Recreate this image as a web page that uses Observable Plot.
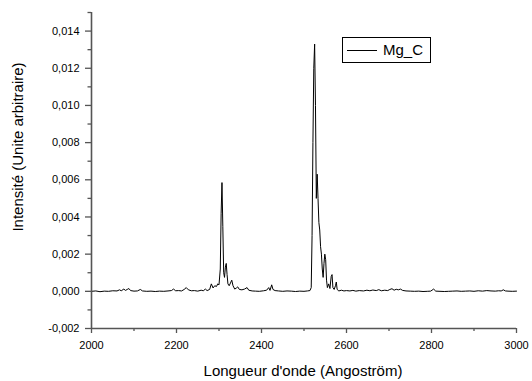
<!DOCTYPE html>
<html>
<head>
<meta charset="utf-8">
<script src="https://cdn.jsdelivr.net/npm/d3@7"></script>
<script src="https://cdn.jsdelivr.net/npm/@observablehq/plot@0.6"></script>
<style>
  html, body { margin: 0; padding: 0; background: #fff; }
  #wrap { position: relative; width: 532px; height: 381px; font-family: "Liberation Sans", Arial, sans-serif; }
  #wrap svg { position: absolute; left: 0; top: 0; }
  .ytitle { position: absolute; left: 17px; top: 147px; transform: translate(-50%, -50%) rotate(-90deg); white-space: nowrap; font-size: 15px; color: #000; }
  .xtitle { position: absolute; left: 303px; top: 370px; transform: translate(-50%, -50%); white-space: nowrap; font-size: 15px; color: #000; }
  .legend { position: absolute; left: 342px; top: 37px; width: 87px; height: 24px; border: 1px solid #000; background: #fff; box-sizing: content-box; }
  .legend .sw { position: absolute; left: 4px; top: 12px; width: 30px; height: 0; border-top: 1px solid #000; }
  .legend .lb { position: absolute; left: 40px; top: 3px; font-size: 15px; line-height: 18px; color: #000; }
</style>
</head>
<body>
<div id="wrap"></div>
<script>
const seriesName = "Mg_C";
const xLabel = "Longueur d'onde (Angoström)";
const yLabel = "Intensité (Unite arbitraire)";

const wavelength = [
  2000, 2010, 2020, 2030, 2040, 2050, 2060, 2066, 2070, 2076, 2080, 2084, 2088, 2092, 2100, 2108, 2115, 2120,
  2130, 2140, 2150, 2160, 2170, 2180, 2188, 2193, 2198, 2205, 2212, 2218, 2223, 2228, 2235, 2242, 2250, 2258,
  2263, 2268, 2272, 2278, 2282, 2286, 2290, 2294, 2297, 2300, 2303, 2305, 2307, 2309, 2311, 2313, 2315, 2317,
  2319, 2321, 2324, 2327, 2330, 2333, 2337, 2341, 2344, 2348, 2354, 2360, 2366, 2370, 2378, 2386, 2395, 2405,
  2412, 2417, 2420, 2424, 2427, 2432, 2440, 2450, 2460, 2470, 2480, 2490, 2500, 2508, 2514, 2517, 2519, 2521,
  2523, 2525, 2527, 2529, 2531, 2533, 2535, 2537, 2539, 2541, 2543, 2545, 2547, 2549, 2551, 2553, 2555, 2558,
  2561, 2564, 2566, 2568, 2571, 2574, 2576, 2578, 2582, 2588, 2594, 2600, 2608, 2615, 2622, 2630, 2640, 2648,
  2655, 2662, 2670, 2676, 2682, 2690, 2697, 2702, 2707, 2712, 2717, 2722, 2727, 2732, 2740, 2750, 2760, 2770,
  2780, 2790, 2798, 2805, 2810, 2820, 2830, 2840, 2850, 2860, 2870, 2880, 2890, 2900, 2910, 2920, 2930, 2940,
  2950, 2958, 2964, 2969, 2974, 2980, 2990, 3000
];
const intensity = [
  0.00000, 0.00002, -0.00002, 0.00001, 0.00000, 0.00003, 0.00002, 0.00008, 0.00003, 0.00012, 0.00005, 0.00010, 0.00015, 0.00004, 0.00001, 0.00002, 0.00010, 0.00002,
  0.00000, 0.00001, -0.00001, 0.00001, 0.00000, 0.00002, 0.00004, 0.00012, 0.00003, 0.00004, 0.00002, 0.00010, 0.00020, 0.00008, 0.00003, 0.00004, 0.00001, 0.00006,
  0.00003, 0.00012, 0.00004, 0.00010, 0.00040, 0.00018, 0.00030, 0.00026, 0.00040, 0.00035, 0.00120, 0.00420, 0.00585, 0.00350, 0.00100, 0.00075, 0.00130, 0.00150,
  0.00090, 0.00040, 0.00030, 0.00045, 0.00060, 0.00030, 0.00012, 0.00018, 0.00024, 0.00010, 0.00008, 0.00012, 0.00020, 0.00006, 0.00002, 0.00001, 0.00000, 0.00003,
  0.00006, 0.00020, 0.00005, 0.00035, 0.00010, 0.00004, 0.00002, 0.00000, 0.00002, 0.00001, -0.00001, 0.00001, 0.00000, 0.00002, 0.00004, 0.00020, 0.00300, 0.00800,
  0.01200, 0.01330, 0.01000, 0.00500, 0.00630, 0.00500, 0.00370, 0.00330, 0.00240, 0.00200, 0.00120, 0.00075, 0.00150, 0.00200, 0.00170, 0.00060, 0.00020, 0.00040,
  0.00015, 0.00080, 0.00090, 0.00020, 0.00010, 0.00030, 0.00050, 0.00010, 0.00002, 0.00006, 0.00002, 0.00004, 0.00002, 0.00005, 0.00001, 0.00004, 0.00002, 0.00006,
  0.00003, 0.00007, 0.00004, 0.00009, 0.00003, 0.00006, 0.00004, 0.00010, 0.00014, 0.00006, 0.00011, 0.00008, 0.00012, 0.00005, 0.00002, 0.00001, 0.00000, 0.00001,
  -0.00001, 0.00000, 0.00001, 0.00012, 0.00001, 0.00000, -0.00001, 0.00000, 0.00001, 0.00002, 0.00000, 0.00001, 0.00002, 0.00000, 0.00003, 0.00001, 0.00004, 0.00002,
  0.00001, 0.00003, 0.00002, 0.00008, 0.00002, 0.00001, 0.00000, 0.00001
];

const xDomain = [2000, 3000];
const yDomain = [-0.002, 0.015];
const xTicks = [2000, 2200, 2400, 2600, 2800, 3000];
const xMinorTicks = [2100, 2300, 2500, 2700, 2900];
const yTicks = [-0.002, 0.000, 0.002, 0.004, 0.006, 0.008, 0.010, 0.012, 0.014];
const yMinorTicks = [-0.001, 0.001, 0.003, 0.005, 0.007, 0.009, 0.011, 0.013, 0.015];

const data = wavelength.map((w, i) => ({w, v: intensity[i]}));
const fmtY = d => d.toFixed(3).replace(".", ",");
const axisColor = "#555";

const plot = Plot.plot({
  width: 532,
  height: 381,
  marginLeft: 91,
  marginRight: 16,
  marginTop: 12,
  marginBottom: 53,
  style: {fontFamily: "'Liberation Sans', Arial, sans-serif", fontSize: "11px", color: "#000", background: "transparent"},
  x: {domain: xDomain},
  y: {domain: yDomain},
  marks: [
    Plot.lineY(data, {x: "w", y: "v", stroke: "#000", strokeWidth: 1}),
    Plot.ruleX([xDomain[0]], {stroke: axisColor, strokeWidth: 1.6}),
    Plot.ruleY([yDomain[0]], {stroke: axisColor, strokeWidth: 1.6}),
    Plot.axisX(xTicks, {tickSize: 5, tickPadding: 8, tickFormat: d => String(d), stroke: axisColor, strokeWidth: 1.3, fill: "#000", label: null}),
    Plot.axisX(xMinorTicks, {tickSize: 3, tickFormat: () => "", stroke: axisColor, strokeWidth: 1.3, label: null}),
    Plot.axisY(yTicks, {tickSize: 6, tickPadding: 6, tickFormat: fmtY, stroke: axisColor, strokeWidth: 1.3, fill: "#000", label: null}),
    Plot.axisY(yMinorTicks, {tickSize: 3.5, tickFormat: () => "", stroke: axisColor, strokeWidth: 1.3, label: null})
  ]
});

const wrap = document.getElementById("wrap");
wrap.appendChild(plot);

const yt = document.createElement("div");
yt.className = "ytitle"; yt.textContent = yLabel; wrap.appendChild(yt);
const xt = document.createElement("div");
xt.className = "xtitle"; xt.textContent = xLabel; wrap.appendChild(xt);
const lg = document.createElement("div");
lg.className = "legend";
lg.innerHTML = '<div class="sw"></div><div class="lb"></div>';
lg.querySelector(".lb").textContent = seriesName;
wrap.appendChild(lg);
</script>
</body>
</html>
